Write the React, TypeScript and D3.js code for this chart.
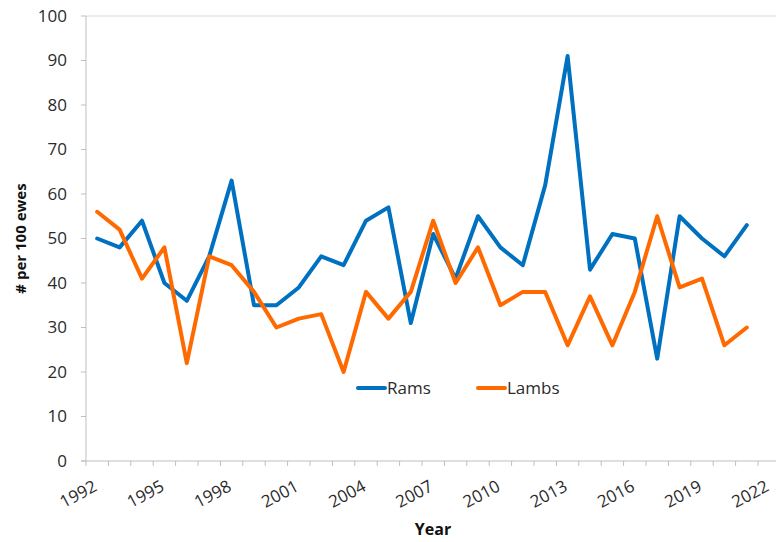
import React from "react";
import * as d3 from "d3";

const years: number[] = d3.range(1992, 2023);
const tickYears: number[] = [1992, 1995, 1998, 2001, 2004, 2007, 2010, 2013, 2016, 2019, 2022];
const yTicks: number[] = [0, 10, 20, 30, 40, 50, 60, 70, 80, 90, 100];
const dataYears: number[] = d3.range(1992, 2022);
const rams: number[] = [50, 48, 54, 40, 36, 46, 63, 35, 35, 39, 46, 44, 54, 57, 31, 51, 41, 55, 48, 44, 62, 91, 43, 51, 50, 23, 55, 50, 46, 53];
const lambs: number[] = [56, 52, 41, 48, 22, 46, 44, 38, 30, 32, 33, 20, 38, 32, 38, 54, 40, 48, 35, 38, 38, 26, 37, 26, 38, 55, 39, 41, 26, 30];
const seriesNames = ["Rams", "Lambs"];
const colors = ["#0070C0", "#FF6A00"];

const W = 776, H = 542;
const left = 86, top = 16, bottom = 461;
const step = 22.4;
const right = left + step * years.length;

export default function App() {
  const x = d3.scaleBand<number>().domain(years).range([left, right]).paddingInner(0).paddingOuter(0);
  const y = d3.scaleLinear().domain([0, 100]).range([bottom, top]);
  const cx = (yr: number) => (x(yr) as number) + x.bandwidth() / 2;
  const line = d3.line<number>().x((_, i) => cx(dataYears[i])).y((d) => y(d));
  const font = "'Open Sans', sans-serif";
  const txt = "#2b2b2b";
  const axisCol = "#BFBFBF";
  const series = [rams, lambs];
  const legendX = [358, 478];
  const legendY = 388;
  return (
    <svg width={W} height={H} style={{ position: "absolute", left: 0, top: 0, background: "#fff" }}>
      {/* top border line */}
      <line x1={left} x2={W} y1={y(100)} y2={y(100)} stroke="#D9D9D9" strokeWidth={1} />
      {/* y axis */}
      <line x1={left} x2={left} y1={y(100)} y2={bottom} stroke={axisCol} strokeWidth={1} />
      {yTicks.map((t) => (
        <g key={t}>
          <line x1={left - 5} x2={left} y1={y(t)} y2={y(t)} stroke={axisCol} />
          <text x={67} y={y(t)} dy="0.35em" textAnchor="end" fontFamily={font} fontSize={17} fill={txt}>
            {t}
          </text>
        </g>
      ))}
      {/* x axis */}
      <line x1={left - 5} x2={W} y1={bottom} y2={bottom} stroke={axisCol} strokeWidth={1} />
      {years.map((yr) => (
        <line key={yr} x1={x(yr)} x2={x(yr)} y1={bottom} y2={bottom + 5} stroke={axisCol} />
      ))}
      <line x1={right} x2={right} y1={bottom} y2={bottom + 5} stroke={axisCol} />
      {tickYears.map((yr) => (
        <text
          key={yr}
          transform={`translate(${cx(yr) + 1},${bottom + 29}) rotate(-28)`}
          textAnchor="end"
          fontFamily={font}
          fontSize={17}
          fill={txt}
        >
          {yr}
        </text>
      ))}
      {/* axis titles */}
      <text x={433} y={535} textAnchor="middle" fontFamily={font} fontWeight="bold" fontSize={16} fill="#111">
        Year
      </text>
      <text
        transform={`translate(26,${(top + bottom) / 2}) rotate(-90)`}
        textAnchor="middle"
        fontFamily={font}
        fontWeight="bold"
        fontSize={15}
        fill="#111"
      >
        # per 100 ewes
      </text>
      {/* series */}
      {series.map((s, i) => (
        <path key={i} d={line(s) || ""} fill="none" stroke={colors[i]} strokeWidth={4} strokeLinejoin="round" strokeLinecap="round" />
      ))}
      {/* legend */}
      {seriesNames.map((n, i) => (
        <g key={n}>
          <line x1={legendX[i]} x2={legendX[i] + 27} y1={legendY} y2={legendY} stroke={colors[i]} strokeWidth={4} strokeLinecap="round" />
          <text x={legendX[i] + 29} y={legendY} dy="0.35em" fontFamily={font} fontSize={17} fill={txt}>
            {n}
          </text>
        </g>
      ))}
    </svg>
  );
}
